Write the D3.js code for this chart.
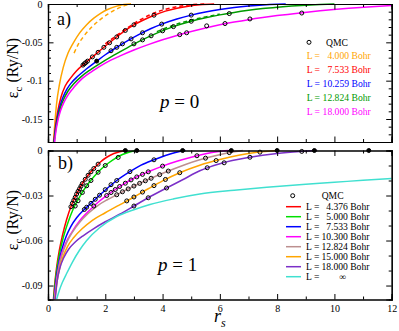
<!DOCTYPE html>
<html>
<head>
<meta charset="utf-8">
<script src="https://cdn.jsdelivr.net/npm/d3@7"></script>
<style>
  body { margin: 0; background: #fff; }
  svg text { font-family: "Liberation Serif", "DejaVu Serif", serif !important; }
</style>
</head>
<body>
<div id="chart"></div>
<script>
// ---- data ----
// panel a) p = 0
const p0Orange = [[0.19,-0.18],[0.24,-0.155],[0.3,-0.13],[0.4,-0.105],[0.53,-0.083],[0.7,-0.064],[0.88,-0.051],[1.1,-0.038],[1.35,-0.027],[1.6,-0.0185],[1.85,-0.0118],[2.1,-0.0068],[2.4,-0.0028],[2.65,-0.0008],[2.9,0]];
const p0OrangeDash = [[0.91,-0.064],[1.05,-0.053],[1.23,-0.043],[1.5,-0.031],[1.8,-0.021],[2.1,-0.013],[2.4,-0.0065],[2.65,-0.0025],[2.9,0]];
const p0Red = [[0.2,-0.18],[0.26,-0.16],[0.34,-0.14],[0.45,-0.122],[0.6,-0.107],[0.8,-0.096],[1.0,-0.087],[1.3,-0.077],[1.6,-0.0675],[1.9,-0.058],[2.3,-0.046],[2.7,-0.0345],[3.0,-0.0272],[3.35,-0.0205],[3.7,-0.0146],[4.1,-0.0093],[4.5,-0.0055],[4.9,-0.0028],[5.3,-0.001],[5.8,0]];
const p0RedDash = [[2.0,-0.052],[2.4,-0.041],[2.8,-0.0305],[3.2,-0.021],[3.6,-0.0135],[4.0,-0.008],[4.5,-0.0035],[5.0,-0.001],[5.5,0]];
const p0Blue = [[0.21,-0.18],[0.26,-0.163],[0.33,-0.147],[0.42,-0.133],[0.53,-0.121],[0.66,-0.111],[0.8,-0.1035],[1.05,-0.094],[1.35,-0.0845],[1.7,-0.0745],[2.0,-0.0662],[2.4,-0.0565],[2.8,-0.0475],[3.2,-0.0393],[3.6,-0.032],[3.97,-0.0262],[4.5,-0.0195],[5.0,-0.0145],[5.5,-0.0105],[6.0,-0.0073],[6.5,-0.0047],[7.0,-0.0027],[7.5,-0.0012],[8.0,-0.0003],[8.3,0]];
const p0Green = [[0.22,-0.18],[0.27,-0.164],[0.34,-0.149],[0.43,-0.136],[0.55,-0.124],[0.7,-0.1135],[0.9,-0.104],[1.15,-0.095],[1.45,-0.0865],[1.8,-0.078],[2.2,-0.069],[2.7,-0.0585],[3.2,-0.0485],[3.8,-0.038],[4.38,-0.0295],[5.0,-0.0225],[5.5,-0.018],[6.0,-0.0142],[6.5,-0.011],[7.0,-0.0083],[7.5,-0.006],[8.0,-0.0042],[8.5,-0.0027],[9.0,-0.0015],[9.5,-0.0006],[10.0,0]];
const p0GreenDash = [[3.8,-0.036],[4.4,-0.0275],[5.0,-0.021],[5.5,-0.0168],[6.0,-0.0132]];
const p0Magenta = [[0.23,-0.18],[0.28,-0.165],[0.35,-0.151],[0.44,-0.139],[0.56,-0.128],[0.72,-0.1175],[0.92,-0.108],[1.2,-0.097],[1.55,-0.0875],[2.0,-0.077],[2.5,-0.068],[3.0,-0.06],[3.5,-0.053],[4.0,-0.0467],[4.5,-0.041],[5.0,-0.0358],[5.5,-0.0312],[6.0,-0.0272],[6.5,-0.0236],[7.0,-0.0204],[7.5,-0.0176],[8.0,-0.0151],[8.8,-0.0116],[9.5,-0.0089],[10.5,-0.0057],[11.3,-0.0036],[12.0,-0.002]];
const p0Qmc = [[1.22,-0.0797],[1.27,-0.078],[1.32,-0.0764],[1.38,-0.0745],[1.55,-0.069],[1.75,-0.063],[1.95,-0.0565],[2.15,-0.0505],[2.4,-0.043],[2.7,-0.0345],[3.0,-0.0272],[3.7,-0.0146],
  [2.2,-0.061],[2.4,-0.0565],[2.6,-0.052],[2.9,-0.0455],[3.3,-0.0375],[3.97,-0.0262],[5.0,-0.0145],
  [3.0,-0.052],[3.3,-0.0468],[3.6,-0.0415],[4.0,-0.035],[4.38,-0.0295],[5.0,-0.0225],[6.33,-0.0125],
  [4.6,-0.040],[4.84,-0.0375],[5.54,-0.0285],[6.18,-0.0255],[7.05,-0.0195],[8.86,-0.0118]];
const p0QmcFilled = [[1.7,-0.0745]];

// panel b) p = 1
const p1Red = [[0.19,-0.0993],[0.23,-0.09],[0.3,-0.078],[0.4,-0.066],[0.5,-0.057],[0.65,-0.046],[0.83,-0.036],[1.0,-0.029],[1.2,-0.022],[1.4,-0.0165],[1.6,-0.012],[1.82,-0.0078],[2.05,-0.0045],[2.3,-0.002],[2.5,-0.0008],[2.7,0]];
const p1Green = [[0.2,-0.0993],[0.24,-0.09],[0.31,-0.079],[0.41,-0.068],[0.52,-0.059],[0.68,-0.049],[0.88,-0.039],[1.1,-0.031],[1.35,-0.0235],[1.6,-0.0175],[1.85,-0.0125],[2.1,-0.0085],[2.35,-0.0052],[2.6,-0.0027],[2.85,-0.001],[3.1,0]];
const p1Blue = [[0.21,-0.0993],[0.26,-0.09],[0.33,-0.08],[0.42,-0.071],[0.53,-0.063],[0.65,-0.0565],[0.8,-0.0505],[1.0,-0.0448],[1.23,-0.04],[1.5,-0.0352],[1.75,-0.0307],[2.05,-0.0255],[2.4,-0.02],[2.86,-0.0141],[3.25,-0.0098],[3.68,-0.0063],[4.1,-0.0033],[4.45,-0.0013],[4.8,0]];
const p1Magenta = [[0.22,-0.0993],[0.28,-0.089],[0.36,-0.079],[0.46,-0.07],[0.6,-0.0625],[0.83,-0.0545],[1.1,-0.047],[1.47,-0.0395],[1.75,-0.0345],[2.05,-0.03],[2.5,-0.024],[3.0,-0.0185],[3.5,-0.0142],[4.0,-0.0104],[4.5,-0.0072],[5.0,-0.0045],[5.5,-0.0022],[5.9,-0.0008],[6.3,0]];
const p1Brown = [[0.23,-0.0993],[0.3,-0.088],[0.38,-0.078],[0.5,-0.069],[0.65,-0.0615],[0.85,-0.0545],[1.1,-0.048],[1.4,-0.042],[1.75,-0.0365],[2.1,-0.0325],[2.6,-0.0275],[3.1,-0.0228],[3.6,-0.0185],[4.2,-0.0137],[4.8,-0.0093],[5.3,-0.0062],[5.8,-0.0036],[6.3,-0.0015],[6.8,0]];
const p1Orange = [[0.24,-0.0993],[0.31,-0.088],[0.4,-0.079],[0.52,-0.071],[0.68,-0.064],[0.9,-0.058],[1.2,-0.052],[1.55,-0.0465],[2.0,-0.0415],[2.5,-0.0362],[3.0,-0.031],[3.5,-0.0255],[4.0,-0.0202],[4.6,-0.0148],[5.3,-0.0098],[6.0,-0.006],[6.7,-0.003],[7.3,-0.0012],[8.0,0]];
const p1Purple = [[0.25,-0.0993],[0.32,-0.087],[0.42,-0.078],[0.55,-0.0715],[0.72,-0.0658],[0.95,-0.061],[1.25,-0.0565],[1.6,-0.052],[2.0,-0.0475],[2.5,-0.0425],[3.0,-0.037],[3.5,-0.0315],[4.14,-0.025],[4.7,-0.0195],[5.3,-0.0135],[6.0,-0.0088],[7.05,-0.0045],[8.0,-0.002],[8.8,-0.0007],[9.4,0]];
const p1Cyan = [[0.3,-0.0993],[0.4,-0.093],[0.5,-0.088],[0.65,-0.082],[0.85,-0.0745],[1.1,-0.0665],[1.35,-0.06],[1.8,-0.0515],[2.4,-0.044],[3.0,-0.0395],[3.56,-0.036],[4.4,-0.0322],[5.3,-0.029],[6.5,-0.0265],[7.64,-0.0245],[9.0,-0.0225],[10.0,-0.0212],[11.0,-0.0198],[12.0,-0.0186]];
const p1Qmc = [
  [0.8,-0.0375],[0.85,-0.0352],[0.9,-0.0332],[0.95,-0.0312],[1.0,-0.029],[1.05,-0.0272],[1.1,-0.0255],[1.15,-0.0238],[1.2,-0.022],[1.3,-0.0192],[1.4,-0.0165],[1.5,-0.0142],[1.6,-0.012],[1.75,-0.0091],
  [0.95,-0.037],[1.05,-0.0335],[1.2,-0.028],[1.35,-0.0235],[1.5,-0.02],[1.75,-0.0145],[2.0,-0.01],[2.45,-0.0046],
  [1.27,-0.0393],[1.35,-0.0378],[1.5,-0.0352],[1.65,-0.0325],[1.8,-0.0298],[2.0,-0.0261],[2.2,-0.0228],[2.4,-0.02],[2.86,-0.0141],[3.7,-0.0062],
  [1.6,-0.037],[2.05,-0.03],[2.2,-0.028],[2.35,-0.026],[2.5,-0.024],[2.7,-0.0218],[2.9,-0.0196],[3.1,-0.0176],[3.3,-0.0159],[3.5,-0.0142],[4.0,-0.0104],[5.2,-0.0035],
  [2.4,-0.0295],[2.6,-0.0275],[2.8,-0.0256],[3.0,-0.0237],[3.2,-0.0219],[3.4,-0.0202],[3.6,-0.0185],[3.9,-0.0161],[4.2,-0.0137],[5.5,-0.0051],[6.33,-0.0014],
  [2.75,-0.0336],[3.0,-0.031],[3.3,-0.0277],[3.7,-0.0234],[4.1,-0.0193],[4.6,-0.0148],[5.87,-0.0067],[7.4,-0.0011],
  [3.0,-0.037],[3.5,-0.0315],[4.14,-0.025],[5.56,-0.0115],[6.15,-0.0082],[7.05,-0.0045],[8.86,-0.0006]];
const p1QmcFilled = [[2.7,0],[3.1,0],[4.7,0],[6.4,0],[8.0,0],[9.3,0],[11.2,0]];

const xMajor = [0, 2, 4, 6, 8, 10, 12];
const xMinor = [1, 3, 5, 7, 9, 11];
const yMajorA = [0, -0.05, -0.1, -0.15];
const yLabelsA = ["0", "-0.05", "-0.1", "-0.15"];
const yMajorB = [0, -0.03, -0.06, -0.09];
const yLabelsB = ["0", "-0.03", "-0.06", "-0.09"];

const legendA = [
  {num: "4.000", color: "#ffa500"},
  {num: "7.533", color: "#ff0000"},
  {num: "10.259", color: "#0000ff"},
  {num: "12.824", color: "#009a00"},
  {num: "18.000", color: "#ff00ff"}
];
const legendB = [
  {num: "4.376", color: "#ff0000"},
  {num: "5.000", color: "#00e000"},
  {num: "7.533", color: "#0000ff"},
  {num: "10.300", color: "#ff00ff"},
  {num: "12.824", color: "#bc8f8f"},
  {num: "15.000", color: "#ffa500"},
  {num: "18.000", color: "#7b30c8"},
  {num: "\u221e", color: "#40e0d0"}
];

// ---- layout ----
const W = 399, H = 331;
const left = 48, right = 391.7;
const SERIF = "'Liberation Serif', 'DejaVu Serif', serif";
const svg = d3.select("#chart").append("svg").attr("width", W).attr("height", H)
  .attr("font-family", SERIF);

const x = d3.scaleLinear().domain([0, 12]).range([left, right]);
const yA = d3.scaleLinear().domain([-0.18, 0]).range([142, 4]);
const yB = d3.scaleLinear().domain([-0.0993, 0]).range([299.5, 150.5]);

const line = (ys) => d3.line().x(d => x(d[0])).y(d => ys(d[1])).curve(d3.curveMonotoneX);

function drawFrame(ys, majors, labels, minorY, showX) {
  const top = ys.range()[1], bot = ys.range()[0];
  const g = svg.append("g");
  g.append("g").attr("transform", `translate(${left},0)`)
    .call(d3.axisLeft(ys).tickValues(majors).tickSize(-5.5).tickPadding(5.5)
      .tickFormat((d, i) => labels[i]));
  g.append("g").attr("transform", `translate(${left},0)`)
    .call(d3.axisLeft(ys).tickValues(minorY).tickSize(-3).tickFormat(""));
  g.append("g").attr("transform", `translate(${right},0)`)
    .call(d3.axisRight(ys).tickValues(majors).tickSize(-5.5).tickFormat(""));
  g.append("g").attr("transform", `translate(${right},0)`)
    .call(d3.axisRight(ys).tickValues(minorY).tickSize(-3).tickFormat(""));
  g.append("g").attr("transform", `translate(0,${bot})`)
    .call(d3.axisBottom(x).tickValues(xMajor).tickSize(-5.5).tickPadding(5)
      .tickFormat(showX ? d3.format("d") : ""));
  g.append("g").attr("transform", `translate(0,${bot})`)
    .call(d3.axisBottom(x).tickValues(xMinor).tickSize(-3).tickFormat(""));
  g.append("g").attr("transform", `translate(0,${top})`)
    .call(d3.axisTop(x).tickValues(xMajor).tickSize(-5.5).tickFormat(""));
  g.append("g").attr("transform", `translate(0,${top})`)
    .call(d3.axisTop(x).tickValues(xMinor).tickSize(-3).tickFormat(""));
  g.selectAll("g").attr("font-family", SERIF);
  g.selectAll(".domain").attr("stroke", "#000").attr("stroke-width", 1.2);
  g.selectAll(".tick line").attr("stroke", "#000");
  g.selectAll(".tick text").style("font-size", "10px").style("font-family", SERIF);
  return g;
}

function clipFor(id, ys) {
  svg.append("clipPath").attr("id", id).append("rect")
    .attr("x", left).attr("y", ys.range()[1] - 3)
    .attr("width", right - left).attr("height", ys.range()[0] - ys.range()[1] + 3);
}
clipFor("clipA", yA);
clipFor("clipB", yB);

const minorA = d3.range(-18, 1).map(v => v / 100).filter(v => !yMajorA.some(m => Math.abs(m - v) < 1e-9));
const minorB = d3.range(-9, 1).map(v => v / 100).filter(v => !yMajorB.some(m => Math.abs(m - v) < 1e-9));

function dots(g, data, ys, filled) {
  g.append("g").selectAll("circle").data(data).join("circle")
    .attr("cx", d => x(d[0])).attr("cy", d => ys(d[1])).attr("r", 2)
    .attr("fill", filled ? "#000" : "none").attr("stroke", "#000").attr("stroke-width", 1);
}

// ---- panel a ----
const gA = svg.append("g").attr("clip-path", "url(#clipA)");
[p0Orange, p0Red, p0Blue, p0Green, p0Magenta].forEach((d, i) => {
  gA.append("path").attr("d", line(yA)(d)).attr("fill", "none")
    .attr("stroke", legendA[i].color).attr("stroke-width", 1.5);
});
[[p0OrangeDash, 0], [p0RedDash, 1], [p0GreenDash, 3]].forEach(([d, i]) => {
  gA.append("path").attr("d", line(yA)(d)).attr("fill", "none")
    .attr("stroke", legendA[i].color).attr("stroke-width", 1.5).attr("stroke-dasharray", "4,3");
});
dots(gA, p0Qmc, yA, false);
dots(gA, p0QmcFilled, yA, true);
drawFrame(yA, yMajorA, yLabelsA, minorA, false);

// ---- panel b ----
const gB = svg.append("g").attr("clip-path", "url(#clipB)");
[p1Red, p1Green, p1Blue, p1Magenta, p1Brown, p1Orange, p1Purple, p1Cyan].forEach((d, i) => {
  gB.append("path").attr("d", line(yB)(d)).attr("fill", "none")
    .attr("stroke", legendB[i].color).attr("stroke-width", 1.5);
});
dots(gB, p1Qmc, yB, false);
dots(gB, p1QmcFilled, yB, true);
drawFrame(yB, yMajorB, yLabelsB, minorB, true);

// ---- texts ----
function txt(px, py, size, str) {
  return svg.append("text").attr("x", px).attr("y", py)
    .style("font-family", SERIF).style("font-size", size).text(str);
}

function yTitle(cy) {
  const t = svg.append("text").attr("transform", `translate(18,${cy}) rotate(-90)`)
    .attr("text-anchor", "middle").style("font-family", SERIF).style("font-size", "16px");
  t.append("tspan").text("\u03b5");
  t.append("tspan").attr("dy", 4).style("font-size", "11px").text("c");
  t.append("tspan").attr("dy", -4).text(" (Ry/N)");
}
yTitle(68);
yTitle(220);

txt(57, 25, "18px", "a)");
txt(58, 168.5, "18px", "b)");

function pLabel(px, py, val) {
  const t = txt(px, py, "19px", null);
  t.append("tspan").style("font-style", "italic").text("p");
  t.append("tspan").text(" = " + val);
}
pLabel(160, 108, "0");
pLabel(158, 271, "1");

const rsT = txt(214, 322, "18px", null).style("font-style", "italic");
rsT.append("tspan").text("r");
rsT.append("tspan").attr("dy", 5).style("font-size", "12px").text("s");

// legend a
const fsL = "9.6px";
svg.append("circle").attr("cx", 309).attr("cy", 42.3).attr("r", 2).attr("fill", "none").attr("stroke", "#000");
txt(326, 45.5, fsL, "QMC");
legendA.forEach((d, i) => {
  const yy = 59 + i * 14;
  txt(306.7, yy, fsL, "L =").style("fill", d.color);
  txt(349, yy, fsL, d.num).attr("text-anchor", "end").style("fill", d.color);
  txt(351.5, yy, fsL, "Bohr").style("fill", d.color);
});

// legend b
svg.append("circle").attr("cx", 292.7).attr("cy", 195.7).attr("r", 2).attr("fill", "none").attr("stroke", "#000");
txt(321.7, 198.5, fsL, "QMC");
legendB.forEach((d, i) => {
  const yy = 206.7 + i * 10;
  svg.append("line").attr("x1", 286).attr("x2", 301).attr("y1", yy).attr("y2", yy)
    .attr("stroke", d.color).attr("stroke-width", 1.5);
  txt(306, yy + 3.5, fsL, "L =");
  if (d.num === "\u221e") {
    txt(346, yy + 3.5, fsL, d.num).attr("text-anchor", "end");
  } else {
    txt(347.8, yy + 3.5, fsL, d.num).attr("text-anchor", "end");
    txt(350.2, yy + 3.5, fsL, "Bohr");
  }
});
</script>
</body>
</html>
